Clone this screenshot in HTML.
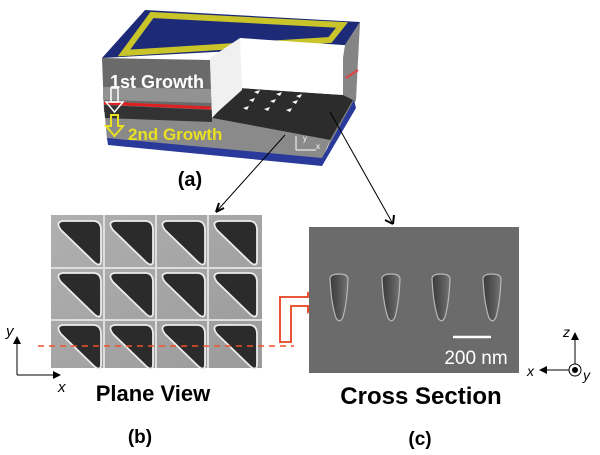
<!DOCTYPE html>
<html><head><meta charset="utf-8"><style>
body{margin:0;background:#fff;width:600px;height:455px;overflow:hidden}
svg{display:block}
text{font-family:"Liberation Sans",sans-serif}
</style></head><body>
<svg width="600" height="455" viewBox="0 0 600 455" xmlns="http://www.w3.org/2000/svg">
<defs>
<linearGradient id="pit" x1="0" y1="0" x2="1" y2="0">
<stop offset="0" stop-color="#3a3a3a"/><stop offset="0.6" stop-color="#5a5a5a"/><stop offset="1" stop-color="#767676"/></linearGradient>
<linearGradient id="cell" x1="0" y1="0" x2="1" y2="1">
<stop offset="0" stop-color="#b0b0b0"/><stop offset="1" stop-color="#9a9a9a"/></linearGradient>
<g id="tri"><path d="M6 1 H36 Q44 1 44 10 V40 Q44 48 37 42 L4 10 Q-2 2 6 1 Z" fill="#2b2b2b" stroke="#ececec" stroke-width="1.8"/></g>
<g id="pt"><path d="M1 3 Q2 -1 10 -1 Q19 -1 19 4 Q18 28 14 42 Q11 49 7 43 Q2 28 1 3 Z" fill="url(#pit)" stroke="#b8b8b8" stroke-width="1.2"/></g>
</defs>

<!-- block -->
<polygon points="145,10 360,22 345,45 102,58" fill="#1c2a78"/>
<polygon points="152,15 342,25 330,40 124,53" fill="none" stroke="#c9c42a" stroke-width="6"/>
<polygon points="345,45 360,22 356,100 322,165 330,140" fill="#858585"/>
<line x1="346" y1="78" x2="358" y2="70" stroke="#e04040" stroke-width="2"/>
<!-- front left block -->
<polygon points="102,58 210,60 212,118 104,112" fill="#6a6a6a"/>
<polygon points="103,87 211,89 211,103 103,100" fill="#929292"/>
<line x1="104" y1="103" x2="211" y2="108" stroke="#e02020" stroke-width="3"/>
<!-- front face lower -->
<polygon points="104,105 212,110 212,118 330,140 322,160 107,140" fill="#8a8a8a"/>
<polygon points="104,105 212,110 212,122 105,118" fill="#333"/>
<polygon points="107,138 322,158 322,166 108,145" fill="#2a3a9a"/>
<polygon points="322,158 354,100 356,108 322,166" fill="#2a3a9a"/>
<!-- floor -->
<polygon points="212,118 240,88 343,95 353,100 330,140" fill="#2c2c2c"/>
<!-- white walls -->
<polygon points="240,38 343,45 343,95 240,88" fill="#fff"/>
<polygon points="210,58 240,38 242,90 212,117" fill="#f0f0f0"/>
<g fill="#fff"><path d="M254 92l6 -2l-2 4z"/><path d="M276 94l6 -2l-2 4z"/><path d="M296 96l6 -2l-2 4z"/>
<path d="M249 100l6 -2l-2 4z"/><path d="M270 101l6 -2l-2 4z"/><path d="M292 102l6 -2l-2 4z"/>
<path d="M243 108l6 -2l-2 4z"/><path d="M264 109l6 -2l-2 4z"/><path d="M286 110l6 -2l-2 4z"/></g>
<text x="110" y="88" font-size="18" font-weight="bold" fill="#fff">1st Growth</text>
<rect x="111" y="88" width="7" height="14" fill="none" stroke="#fff" stroke-width="1.5"/>
<path d="M106 102 H123 L114.5 112 Z" fill="none" stroke="#fff" stroke-width="1.5"/>
<path d="M111 115 H118 V126 H123 L114.5 136 L106 126 H111 Z" fill="none" stroke="#e8e020" stroke-width="2"/>
<text x="128" y="140" font-size="17" font-weight="bold" fill="#e8e020">2nd Growth</text>
<g stroke="#fff" stroke-width="1" fill="none"><path d="M296 150 V136 M296 150 H316"/></g>
<text x="303" y="141" font-size="8" fill="#fff">y</text><text x="316" y="149" font-size="8" fill="#fff">x</text>
<text x="190" y="186" font-size="20" font-weight="bold" text-anchor="middle">(a)</text>

<!-- arrows from block -->
<line x1="285" y1="135" x2="216" y2="212" stroke="#000" stroke-width="1"/>
<path d="M216 212 l3 -9 M216 212 l8 -4" stroke="#000" stroke-width="2" fill="none"/>
<line x1="330" y1="112" x2="393" y2="224" stroke="#000" stroke-width="1"/>
<path d="M393 224 l-8 -4 M393 224 l1 -9" stroke="#000" stroke-width="2" fill="none"/>

<!-- left SEM -->
<rect x="51" y="215" width="211" height="153" fill="url(#cell)"/>
<g stroke="#dedede" stroke-width="2" fill="none">
<path d="M104 215V368M156 215V368M208 215V368M51 268H262M51 320H262"/></g>
<g>
<use href="#tri" x="57" y="220"/><use href="#tri" x="109" y="220"/><use href="#tri" x="161" y="220"/><use href="#tri" x="213" y="220"/>
<use href="#tri" x="57" y="272"/><use href="#tri" x="109" y="272"/><use href="#tri" x="161" y="272"/><use href="#tri" x="213" y="272"/>
<use href="#tri" x="57" y="324"/><use href="#tri" x="109" y="324"/><use href="#tri" x="161" y="324"/><use href="#tri" x="213" y="324"/>
</g>
<line x1="38" y1="346" x2="294" y2="346" stroke="#f0502a" stroke-width="1.5" stroke-dasharray="6,5"/>
<path d="M17 375 V342 M17 375 H55" stroke="#000" stroke-width="1" fill="none"/>
<path d="M13 344 L17 336 L21 344 Z M53 371 L61 375 L53 379 Z" fill="#000"/>
<text x="6" y="336" font-family="Liberation Serif" font-style="italic" font-size="15">y</text>
<text x="58" y="392" font-family="Liberation Serif" font-style="italic" font-size="15">x</text>
<text x="153" y="401" font-size="22" font-weight="bold" text-anchor="middle">Plane View</text>
<text x="140" y="443" font-size="19" font-weight="bold" text-anchor="middle">(b)</text>

<!-- red bent arrow -->
<path d="M280 342 V297 H308 V293 L320 301 L308 312 V306 H291 V342 Z" fill="#fff" stroke="#e8401e" stroke-width="1.8"/>

<!-- right SEM -->
<rect x="309" y="227" width="210" height="146" fill="#6b6b6b"/>
<use href="#pt" x="329" y="275"/><use href="#pt" x="381" y="275"/><use href="#pt" x="431" y="275"/><use href="#pt" x="482" y="275"/>
<line x1="453" y1="337" x2="491" y2="337" stroke="#fff" stroke-width="2.5"/>
<text x="476" y="364" font-size="19" fill="#fff" text-anchor="middle">200 nm</text>
<text x="421" y="404" font-size="24" font-weight="bold" text-anchor="middle">Cross Section</text>
<text x="420" y="445" font-size="19" font-weight="bold" text-anchor="middle">(c)</text>

<!-- right axis -->
<path d="M575 364 V338 M569 370 H545" stroke="#000" stroke-width="1" fill="none"/>
<path d="M571 340 L575 332 L579 340 Z M547 366 L539 370 L547 374 Z" fill="#000"/>
<circle cx="575" cy="370" r="6" fill="none" stroke="#000" stroke-width="1"/>
<circle cx="575" cy="370" r="3" fill="#000"/>
<text x="563" y="337" font-family="Liberation Serif" font-style="italic" font-size="14">z</text>
<text x="527" y="376" font-family="Liberation Serif" font-style="italic" font-size="14">x</text>
<text x="583" y="380" font-family="Liberation Serif" font-style="italic" font-size="14">y</text>
</svg>
</body></html>
